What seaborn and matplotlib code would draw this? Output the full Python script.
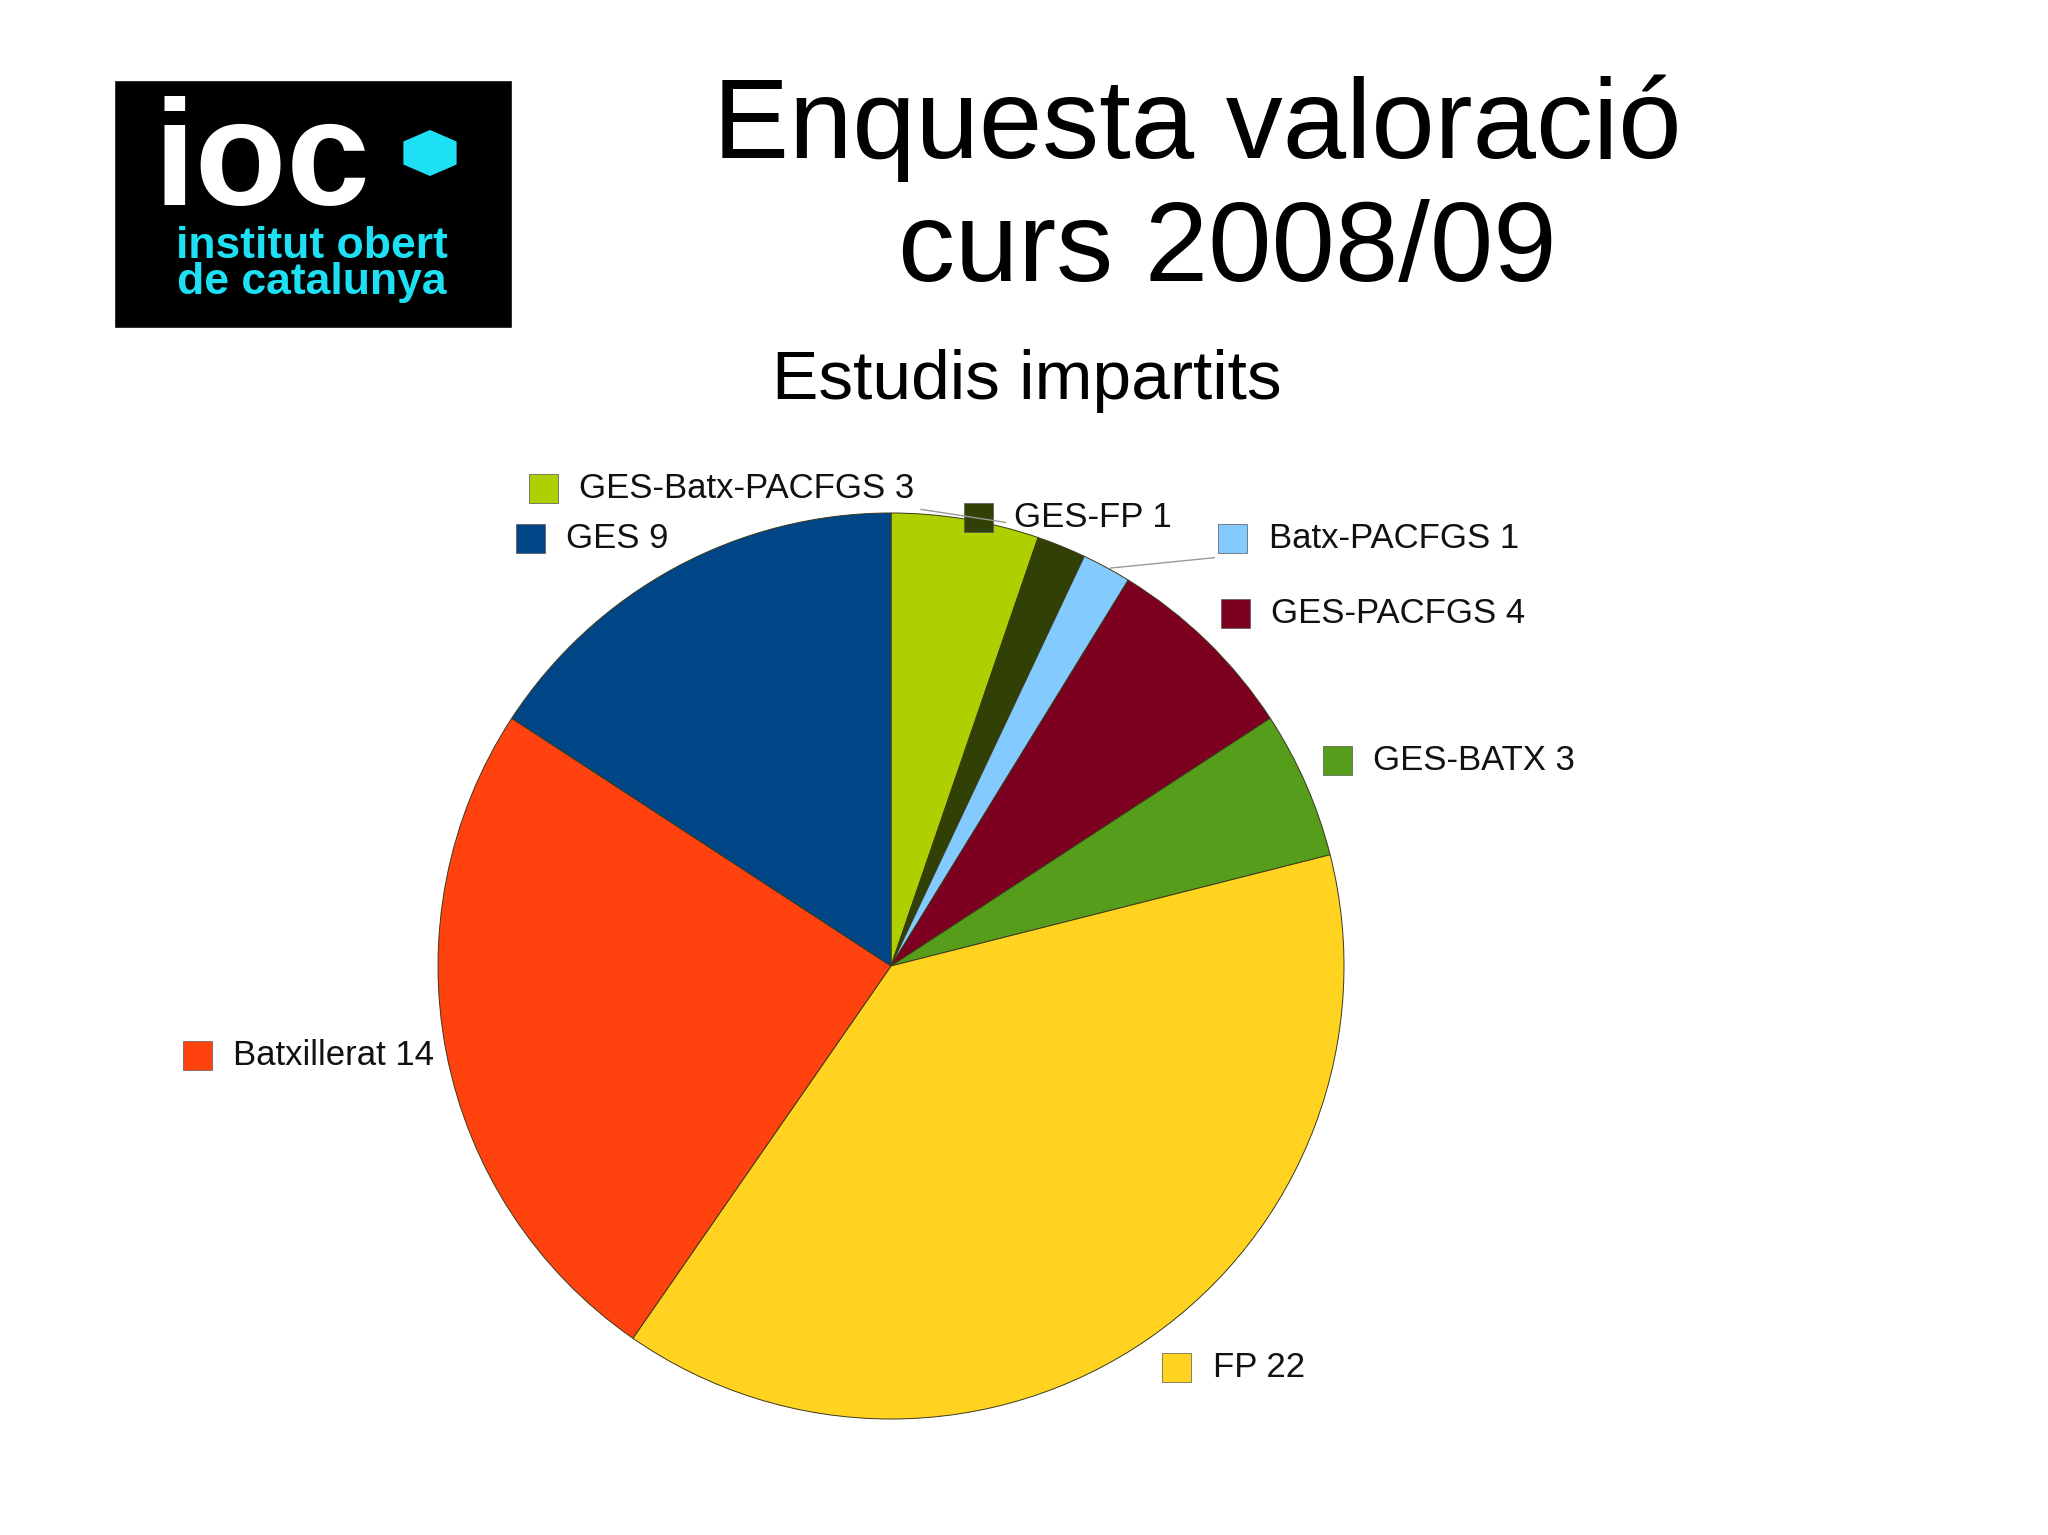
import matplotlib
matplotlib.use("Agg")
import matplotlib.pyplot as plt
import seaborn as sns
from matplotlib.patches import Rectangle, RegularPolygon
from matplotlib.lines import Line2D

categories = ["GES-Batx-PACFGS", "GES-FP", "Batx-PACFGS", "GES-PACFGS",
              "GES-BATX", "FP", "Batxillerat", "GES"]
values = [3, 1, 1, 4, 3, 22, 14, 9]
colors = ["#AECF00", "#314004", "#83CAFF", "#7E0021",
          "#579D1C", "#FFD320", "#FF420E", "#004586"]

sns.set_theme(style="white")
plt.rcParams['font.family'] = ['Liberation Sans', 'DejaVu Sans']

W, H = 2048, 1535
fig = plt.figure(figsize=(20.48, 15.35), dpi=100)
fig.patch.set_facecolor("white")

def fx(x): return x / W
def fy(y): return 1 - y / H

ax = fig.add_axes([fx(891 - 453), fy(966 + 453), 906 / W, 906 / H])
ax.pie(values, colors=colors, startangle=90, counterclock=False, radius=1,
       wedgeprops=dict(edgecolor="#3a3a1a", linewidth=0.7))
ax.set_xlim(-1, 1); ax.set_ylim(-1, 1)
ax.axis("off")

s = 1.306
label_pos = {
    "GES-Batx-PACFGS": (416, 374), "GES-FP": (749, 396),
    "Batx-PACFGS": (944, 412), "GES-PACFGS": (946, 470),
    "GES-BATX": (1024, 582), "FP": (901, 1047),
    "Batxillerat": (151, 808), "GES": (406, 412),
}
sq = 29
for cat, val, col in zip(categories, values, colors):
    x, y = label_pos[cat]
    x, y = x * s, y * s
    fig.patches.append(Rectangle((fx(x - sq / 2), fy(y + sq / 2)), sq / W, sq / H,
                                 transform=fig.transFigure, facecolor=col,
                                 edgecolor="#555555", linewidth=0.5))
    fig.text(fx(x + 36), fy(y), f"{cat} {val}", fontsize=25, va="center",
             ha="left", color="#111111")

for (x0, y0, x1, y1) in [(705, 390, 770, 400), (930, 427, 850, 435)]:
    fig.add_artist(Line2D([fx(x0 * s), fx(x1 * s)], [fy(y0 * s), fy(y1 * s)],
                          transform=fig.transFigure, color="#999999", lw=1))

fig.text(fx(917 * s), fy(98 * s), "Enquesta valoració", fontsize=82,
         ha="center", va="center", color="black")
fig.text(fx(940 * s), fy(193 * s), "curs 2008/09", fontsize=82,
         ha="center", va="center", color="black")
fig.text(fx(786 * s), fy(292 * s), "Estudis impartits", fontsize=50,
         ha="center", va="center", color="black")

# Logo
fig.patches.append(Rectangle((fx(114), fy(328)), (512 - 114) / W, (328 - 80) / H,
                             transform=fig.transFigure, facecolor="black"))
fig.text(fx(154), fy(205), "ioc", fontsize=108, fontweight="bold",
         color="white", ha="left", va="baseline", zorder=5)
fig.add_artist(RegularPolygon((fx(430), fy(153)), numVertices=6, radius=0.015,
                              orientation=0.0, transform=fig.transFigure,
                              facecolor="#1EE0F5", edgecolor="none", zorder=5))
fig.text(fx(312), fy(258), "institut obert", fontsize=32, fontweight="bold",
         color="#1EE0F5", ha="center", va="baseline", zorder=5)
fig.text(fx(312), fy(294), "de catalunya", fontsize=32, fontweight="bold",
         color="#1EE0F5", ha="center", va="baseline", zorder=5)

fig.savefig("out.png", dpi=100)
